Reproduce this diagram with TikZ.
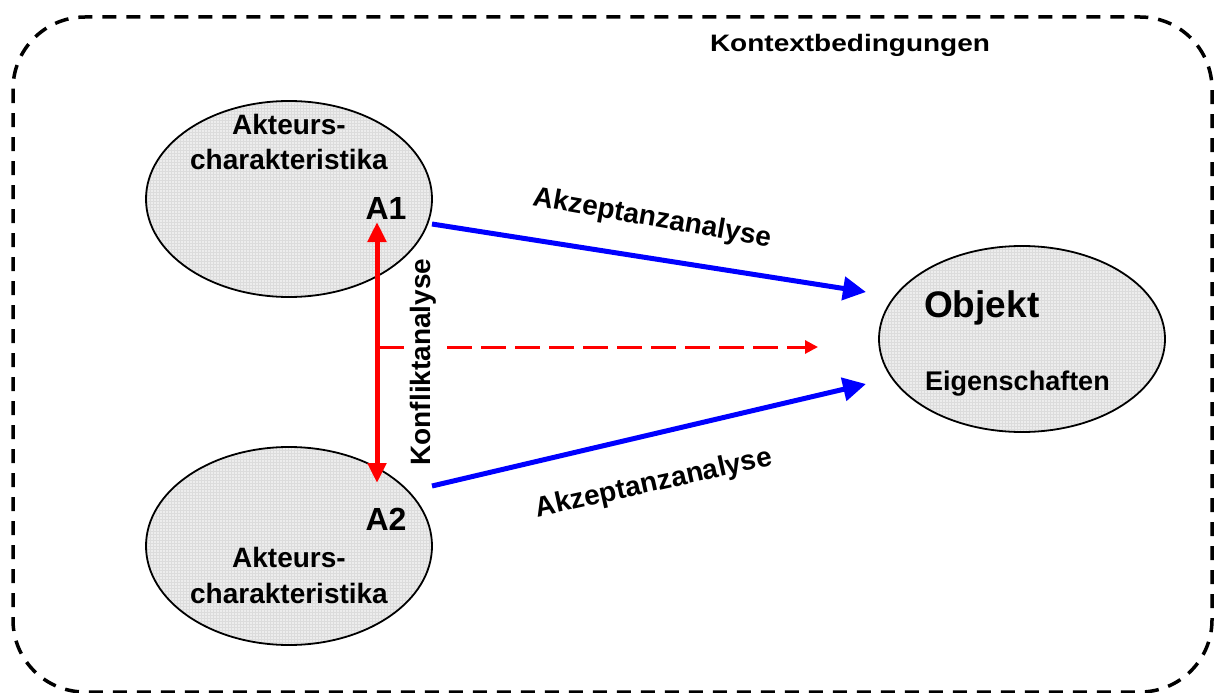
\documentclass[tikz,border=0pt]{standalone}
\usepackage{fontspec}
\setmainfont{Liberation Sans}
\usetikzlibrary{arrows.meta,shapes.geometric,patterns}
\definecolor{ellfill}{HTML}{EDEDED}
\definecolor{gridcol}{HTML}{DCDCDC}
\definecolor{myblue}{HTML}{0000FF}
\definecolor{myred}{HTML}{FF0000}
\tikzset{
  ell/.style={ellipse, draw=black, line width=1.8pt, preaction={fill=ellfill}, pattern=grid, pattern color=gridcol, inner sep=0pt},
  lbl/.style={font=\bfseries\fontsize{28}{34}\selectfont, inner sep=0pt},
  albl/.style={font=\bfseries\fontsize{32}{38}\selectfont, inner sep=0pt},
  bluearrow/.style={draw=myblue, line width=5pt, -{Triangle[length=23pt,width=23pt]}},
  redarrow/.style={draw=myred, line width=5pt, {Triangle[length=20pt,width=18pt]}-{Triangle[length=20pt,width=18pt]}},
  reddash/.style={draw=myred, line width=3pt, dash pattern=on 25pt off 9pt, -{Triangle[length=13pt,width=13pt]}},
  frame/.style={draw=black, line width=3.5pt, dash pattern=on 14pt off 10pt, rounded corners=72pt}
}
\begin{document}
\begin{tikzpicture}[x=1pt,y=-1pt]
\useasboundingbox (0,0) rectangle (1216,693);
% context frame
\draw[frame] (13,17) rectangle (1212,692);
\node[lbl, anchor=base] (ctx) at (850,52) {\scalebox{1}[0.85]{Kontextbedingungen}};
% ellipses
\node[ell, minimum width=286pt, minimum height=196pt] (e1) at (289,199) {};
\node[ell, minimum width=286pt, minimum height=198pt] (e2) at (289,546) {};
\node[ell, minimum width=286pt, minimum height=186pt] (e3) at (1022,339) {};
% texts in ellipses
\node[lbl, anchor=base] (t1a) at (289,134) {Akteurs-};
\node[lbl, anchor=base] (t1b) at (289,169) {charakteristika};
\node[albl, anchor=base] (a1) at (386,219) {A1};
\node[albl, anchor=base] (a2) at (386,530) {A2};
\node[lbl, anchor=base] (t2a) at (289,567) {Akteurs-};
\node[lbl, anchor=base] (t2b) at (289,603) {charakteristika};
\node[font=\bfseries\fontsize{37}{44}\selectfont, inner sep=0pt, anchor=base west] (obj) at (924,317) {Objekt};
\node[font=\bfseries\fontsize{27}{32}\selectfont, inner sep=0pt, anchor=base west] (eig) at (925,390) {Eigenschaften};
% coordinates for connectors
\coordinate (b1s) at (432,224);
\coordinate (b1e) at (866,292);
\coordinate (b2s) at (432,486);
\coordinate (b2e) at (866,384);
\coordinate (rs) at (377,222);
\coordinate (re) at (377,483);
\coordinate (ds) at (379,347);
\coordinate (de) at (818,347);
% connectors
\draw[reddash] (ds) -- (de);
\node[lbl, rotate=90, fill=white, inner sep=3pt] (konf) at (423,362) {Konfliktanalyse};
\draw[redarrow] (rs) -- (re);
\draw[bluearrow] (b1s) -- (b1e);
\draw[bluearrow] (b2s) -- (b2e);
\node[lbl, rotate=-10] (ak1) at (652,219) {Akzeptanzanalyse};
\node[lbl, rotate=12.5] (ak2) at (654,484) {Akzeptanzanalyse};
\end{tikzpicture}
\end{document}
